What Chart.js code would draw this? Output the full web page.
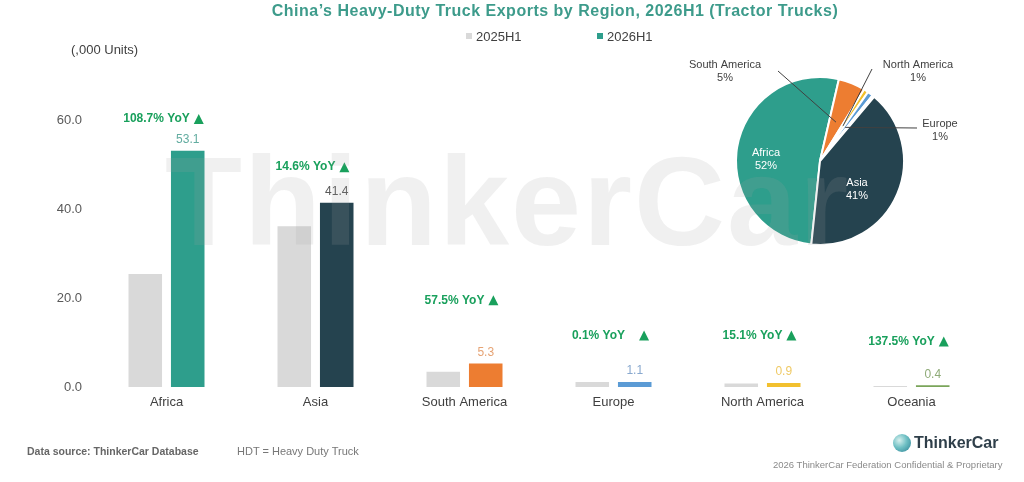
<!DOCTYPE html>
<html>
<head>
<meta charset="utf-8">
<script src="https://cdn.jsdelivr.net/npm/chart.js@4.4.1/dist/chart.umd.min.js"></script>
<style>
  body { margin: 0; background: #fff; font-family: "Liberation Sans", Arial, sans-serif; }
  #wrap { position: relative; width: 1024px; height: 482px; overflow: hidden; }
  canvas { position: absolute; }
  .txt { position: absolute; white-space: nowrap; line-height: 16px; color: #404040; }
  #title { left: 555px; top: 3px; transform: translateX(-50%); font-size: 16px; font-weight: bold; color: #3d9b8b; letter-spacing: 0.5px; }
  .sw { display: inline-block; width: 6px; height: 6px; margin-right: 4px; vertical-align: 2px; }
  #watermark { position: absolute; left: 165px; top: 139px; font-size: 126px; line-height: 126px; font-weight: bold; letter-spacing: 2px; color: rgba(160,160,160,0.16); white-space: nowrap; }
  #logo-icon { position: absolute; left: 893px; top: 434px; width: 18px; height: 18px; border-radius: 50%;
    background: radial-gradient(circle at 35% 35%, #d8f0ee 0%, #6fc0c4 45%, #2a7f92 100%); }
</style>
</head>
<body>
<div id="wrap">
  <canvas id="chart-1" width="1024" height="482" style="left:0;top:0"></canvas>
  <canvas id="chart-2" width="300" height="220" style="left:670px;top:51px"></canvas>
  <div id="watermark">ThinkerCar</div>

  <div class="txt" id="title">China’s Heavy-Duty Truck Exports by Region, 2026H1 (Tractor Trucks)</div>
  <div class="txt" style="left:466px;top:29px;font-size:13px"><span class="sw" style="background:#d9d9d9"></span>2025H1</div>
  <div class="txt" style="left:597px;top:29px;font-size:13px"><span class="sw" style="background:#2e9e8c"></span>2026H1</div>
  <div class="txt" style="left:71px;top:42px;font-size:13px">(,000 Units)</div>

  <div class="txt" style="left:27px;top:443px;font-size:10.5px;font-weight:bold;color:#666">Data source: ThinkerCar Database</div>
  <div class="txt" style="left:237px;top:443px;font-size:11px;color:#777">HDT = Heavy Duty Truck</div>
  <div id="logo-icon"></div>
  <div class="txt" style="left:914px;top:435px;font-size:16px;font-weight:bold;color:#2f3f4a">ThinkerCar</div>
  <div class="txt" style="left:773px;top:457px;font-size:9.5px;color:#8a8a8a">2026 ThinkerCar Federation Confidential &amp; Proprietary</div>
</div>

<script>
// Chart data
const categories = ["Africa", "Asia", "South America", "Europe", "North America", "Oceania"];
const units2025 = [25.4, 36.1, 3.4, 1.1, 0.8, 0.2];
const units2026 = [53.1, 41.4, 5.3, 1.1, 0.9, 0.4];
const yoyGrowth = ["108.7%", "14.6%", "57.5%", "0.1%", "15.1%", "137.5%"];
const yTicks = [0, 20, 40, 60];

// Styling
const regionColors = ["#2e9e8c", "#25434f", "#ed7d31", "#5b9bd5", "#f2c02e", "#7aa55a"];
const valueLabelColors = ["#62aca0", "#595959", "#e6a374", "#89a9cf", "#efca66", "#8fab78"];
const yoyLabelAt = [60.2, 49.4, 19.5, 11.6, 11.6, 10.2]; // label heights in axis units
const yoyGap = [4, 4, 4, 14, 4, 4];

Chart.defaults.font.family = '"Liberation Sans", Arial, sans-serif';

// Value labels and YoY annotations over the bars
const barLabels = {
    id: "barLabels",
    afterDatasetsDraw(chart) {
        const c = chart.ctx;
        const xs = chart.scales.x, ys = chart.scales.y;
        const bars = chart.getDatasetMeta(1).data;
        c.save();
        c.textBaseline = "middle";
        bars.forEach((bar, i) => {
            c.textAlign = "center";
            c.font = '12px "Liberation Sans", Arial, sans-serif';
            c.fillStyle = valueLabelColors[i];
            c.fillText(units2026[i].toFixed(1), bar.x, bar.y - 11);

            const txt = yoyGrowth[i] + " YoY";
            c.font = 'bold 12px "Liberation Sans", Arial, sans-serif';
            const w = c.measureText(txt).width;
            const tri = 10;
            const total = w + yoyGap[i] + tri;
            const x0 = xs.getPixelForValue(i) - 3 - total / 2;
            const y = ys.getPixelForValue(yoyLabelAt[i]);
            c.textAlign = "left";
            c.fillStyle = "#19a05c";
            c.fillText(txt, x0, y);
            const tx = x0 + w + yoyGap[i];
            c.beginPath();
            c.moveTo(tx, y + 5);
            c.lineTo(tx + tri, y + 5);
            c.lineTo(tx + tri / 2, y - 5);
            c.closePath();
            c.fill();
        });
        c.restore();
    }
};

// Define barChart
const ctx1 = document.getElementById("chart-1").getContext("2d");
const barChart = new Chart(ctx1, {
    type: "bar",
    data: {
        labels: categories,
        datasets: [{
            label: "2025H1",
            data: units2025,
            backgroundColor: "#d9d9d9",
            categoryPercentage: 0.57,
            barPercentage: 0.79,
        }, {
            label: "2026H1",
            data: units2026,
            backgroundColor: regionColors,
            categoryPercentage: 0.57,
            barPercentage: 0.79,
        }],
    },
    options: {
        responsive: false,
        animation: false,
        layout: { padding: { top: 120, right: 38, left: 0, bottom: 0 } },
        plugins: { legend: { display: false }, tooltip: { enabled: false } },
        scales: {
            x: {
                grid: { display: false, drawTicks: false },
                border: { display: false },
                ticks: { color: "#404040", font: { size: 13 }, padding: 8 },
                afterFit: s => { s.height = 95; },
            },
            y: {
                min: 0,
                max: 60,
                grid: { display: false, drawTicks: false },
                border: { display: false },
                ticks: { color: "#595959", font: { size: 13 }, padding: 10, callback: v => v.toFixed(1) },
                afterBuildTicks: s => { s.ticks = yTicks.map(v => ({ value: v })); },
                afterFit: s => { s.width = 92; },
            },
        },
    },
    plugins: [barLabels],
});

// Pie: share of 2026H1 exports
const pieOrder = [0, 2, 4, 3, 5, 1];
const pieTotal = units2026.reduce((a, b) => a + b, 0);
// label centre and leader start, relative to pie centre
const pieLabelPos = {
    "Africa": { at: [-54, -2] },
    "Asia": { at: [37, 28] },
    "South America": { at: [-95, -90], line: [-42, -90] },
    "North America": { at: [98, -90], line: [52, -92] },
    "Europe": { at: [120, -31], line: [97, -33] },
};

const pieLabels = {
    id: "pieLabels",
    afterDatasetsDraw(chart) {
        const c = chart.ctx;
        const arcs = chart.getDatasetMeta(0).data;
        c.save();
        c.textAlign = "center";
        c.textBaseline = "middle";
        c.font = '11px "Liberation Sans", Arial, sans-serif';
        arcs.forEach((arc, k) => {
            const name = categories[pieOrder[k]];
            const pos = pieLabelPos[name];
            if (!pos) return;
            const pct = Math.round(units2026[pieOrder[k]] / pieTotal * 100) + "%";
            const lx = arc.x + pos.at[0], ly = arc.y + pos.at[1];
            if (pos.line) {
                const mid = (arc.startAngle + arc.endAngle) / 2;
                const r = arc.outerRadius * 0.5;
                c.strokeStyle = "#404040";
                c.lineWidth = 1;
                c.beginPath();
                c.moveTo(arc.x + pos.line[0], arc.y + pos.line[1]);
                c.lineTo(arc.x + Math.cos(mid) * r, arc.y + Math.sin(mid) * r);
                c.stroke();
                c.fillStyle = "#404040";
            } else {
                c.fillStyle = "#ffffff";
            }
            c.fillText(name, lx, ly - 6.5);
            c.fillText(pct, lx, ly + 6.5);
        });
        c.restore();
    }
};

const ctx2 = document.getElementById("chart-2").getContext("2d");
const pieChart = new Chart(ctx2, {
    type: "pie",
    data: {
        labels: pieOrder.map(i => categories[i]),
        datasets: [{
            data: pieOrder.map(i => units2026[i]),
            backgroundColor: pieOrder.map(i => regionColors[i]),
            borderColor: "#ffffff",
            borderWidth: 2,
        }],
    },
    options: {
        responsive: false,
        animation: false,
        rotation: 13 - 360 * units2026[0] / pieTotal,
        layout: { padding: { top: 25, bottom: 25, left: 65, right: 65 } },
        plugins: { legend: { display: false }, tooltip: { enabled: false } },
    },
    plugins: [pieLabels],
});
</script>
</body>
</html>
